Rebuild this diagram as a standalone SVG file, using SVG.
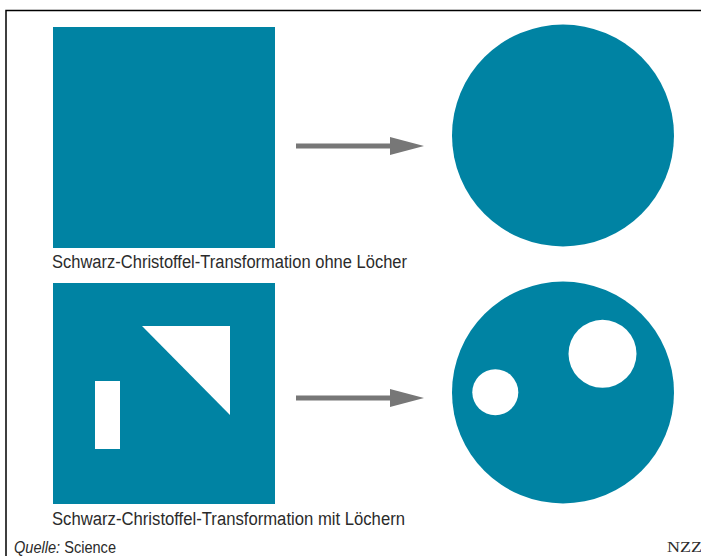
<svg xmlns="http://www.w3.org/2000/svg" width="701" height="556" viewBox="0 0 701 556">
<style>
.shape{fill:#0083a3}
.hole{fill:#ffffff}
.lbl{font-family:"Liberation Sans",Arial,sans-serif;font-size:18px;fill:#2b2b2b}
.arrow{stroke:#777777;stroke-width:5;fill:none}
</style>
<defs>
<marker id="ah" viewBox="0 0 34 18" refX="0" refY="9" markerWidth="34" markerHeight="18" markerUnits="userSpaceOnUse" orient="auto">
<path d="M0,0 L34,9 L0,18 Z" fill="#777777"/>
</marker>
</defs>
<rect width="701" height="556" fill="#ffffff"/>
<path d="M6,556 V10.5 H701" fill="none" stroke="#000" stroke-width="1.5"/>
<g id="square">
<rect class="shape" x="53" y="27" width="222" height="221"/>
</g>
<g id="disk">
<circle class="shape" cx="563" cy="135.5" r="111"/>
</g>
<g id="square-holes">
<rect class="shape" x="53" y="283" width="222" height="221"/>
<rect class="hole" x="95" y="381" width="25" height="68"/>
<path class="hole" d="M142,326 H230 V415 Z"/>
</g>
<g id="disk-holes">
<circle class="shape" cx="563" cy="392.5" r="111"/>
<circle class="hole" cx="495.3" cy="392.3" r="23"/>
<circle class="hole" cx="602.5" cy="353.8" r="34"/>
</g>
<g id="connectors">
<line class="arrow" x1="296" y1="146" x2="390" y2="146" marker-end="url(#ah)"/>
<line class="arrow" x1="296" y1="398" x2="390" y2="398" marker-end="url(#ah)"/>
</g>
<text class="lbl" x="52" y="268" textLength="355" lengthAdjust="spacingAndGlyphs">Schwarz-Christoffel-Transformation ohne Löcher</text>
<text class="lbl" x="52" y="525" textLength="353" lengthAdjust="spacingAndGlyphs">Schwarz-Christoffel-Transformation mit Löchern</text>
<text x="14" y="553" font-family="Liberation Sans,Arial,sans-serif" font-size="16" fill="#2b2b2b" textLength="102" lengthAdjust="spacingAndGlyphs"><tspan font-style="italic">Quelle:</tspan> Science</text>
<text x="667" y="551.5" font-family="Liberation Serif,Times New Roman,serif" font-size="15" fill="#2b2b2b" textLength="35" lengthAdjust="spacingAndGlyphs">NZZ</text>
</svg>
